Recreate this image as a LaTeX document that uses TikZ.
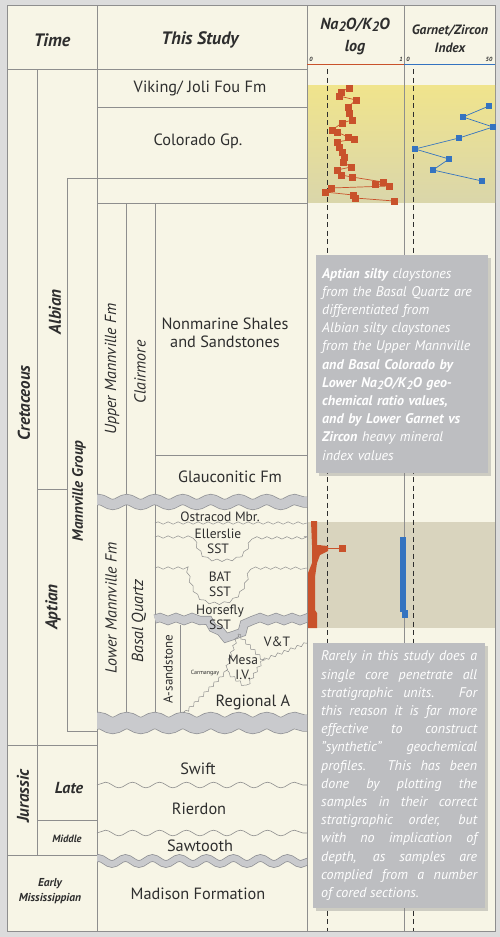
\documentclass[tikz,border=0pt]{standalone}
\usepackage{fontspec}
\setmainfont{PT Sans}
\usetikzlibrary{arrows.meta,plotmarks,decorations.pathmorphing,shadows}

\definecolor{paper}{HTML}{F7F5E6}
\definecolor{frame}{HTML}{DCDCDC}
\definecolor{ink}{HTML}{2E2E2E}
\definecolor{rulegray}{HTML}{8E8E8E}
\definecolor{bandgray}{HTML}{C9CACD}
\definecolor{bandedge}{HTML}{8F9094}
\definecolor{natred}{HTML}{C9522B}
\definecolor{garblue}{HTML}{3473C0}
\definecolor{yelltop}{HTML}{F0E48C}
\definecolor{yellbot}{HTML}{DAD6AA}
\definecolor{aptband}{HTML}{D9D4BE}
\definecolor{notegray}{HTML}{BDBEC1}

\newcommand{\lowsub}[1]{\raisebox{-.3ex}{\scalebox{.85}{#1}}}

\begin{document}
\begin{tikzpicture}[x=1pt,y=-1pt,
  rule/.style={draw=rulegray,line width=0.6pt},
  wave/.style={draw=rulegray,line width=0.6pt,decorate,
    decoration={snake,amplitude=2.8pt,segment length=27pt}},
  ripple/.style={draw=rulegray,line width=0.5pt,decorate,
    decoration={snake,amplitude=1.2pt,segment length=10pt}},
  bumpy/.style={draw=rulegray,line width=0.5pt,decorate,
    decoration={snake,amplitude=1.4pt,segment length=7pt}},
  head/.style={font=\fontsize{18}{20}\selectfont\bfseries\itshape,text=ink,align=center},
  age/.style={font=\fontsize{17}{19}\selectfont\bfseries\itshape,text=ink,rotate=90},
  fm/.style={font=\fontsize{16}{18}\selectfont\itshape,text=ink,rotate=90},
  unit/.style={font=\fontsize{16.3}{18}\selectfont,text=ink,align=center},
  sub/.style={font=\fontsize{13.5}{15}\selectfont,text=ink,align=center},
  tick/.style={font=\fontsize{6}{7}\selectfont\bfseries\itshape,text=ink},
  note/.style={fill=notegray,text=white,inner sep=0pt,anchor=north west,
    font=\fontsize{14}{18.2}\selectfont\itshape,
    drop shadow={shadow xshift=2.5pt,shadow yshift=-2.5pt,opacity=.35}}]

  % frame and panel
  \fill[frame] (0,0) rectangle (500,937);
  \fill[paper,draw=rulegray,line width=0.6pt] (7,5) rectangle (495,931);

  % highlighted intervals in the data columns
  \fill[top color=yelltop,bottom color=yellbot] (307,85) rectangle (495,202);
  \fill[aptband] (307,522) rectangle (495,628);

  % column rules
  \draw[rule] (97,5) -- (97,931);
  \draw[rule] (307,5) -- (307,931);
  \draw[rule] (404,5) -- (404,931);
  \draw[rule] (37,69) -- (37,855);
  \draw[rule] (7,69) -- (307,69);
  \draw[natred,line width=1pt] (307,64) -- (404,64);
  \draw[garblue,line width=1pt] (404,64) -- (495,64);

  % row rules
  \draw[rule] (97,107) -- (307,107);
  \draw[rule] (67,178) -- (307,178);
  \draw[rule] (97,203) -- (307,203);
  \draw[rule] (67,178) -- (67,731) -- (97,731);
  \draw[rule] (126,203) -- (126,715);
  \draw[rule] (155,203) -- (155,715);
  \draw[rule] (155,455) -- (307,455);
  \draw[rule] (37,489) -- (67,489);
  \draw[rule] (180,625) -- (180,715);
  \draw[rule] (7,745) -- (97,745);
  \draw[rule] (37,820) -- (97,820);
  \draw[rule] (7,855) -- (97,855);

  % unconformities
  \begin{scope}
    \clip (97,0) rectangle (307,937);
    \draw[bandedge,line width=11pt,decorate,decoration={snake,amplitude=2.5pt,segment length=28pt}]
      (90,502) -- (315,502);
    \draw[bandgray,line width=9.6pt,decorate,decoration={snake,amplitude=2.5pt,segment length=28pt}]
      (90,502) -- (315,502);
    \draw[bandedge,line width=9pt,decorate,decoration={snake,amplitude=1.5pt,segment length=16pt}]
      (155,619) -- (193,619) .. controls (210,619) and (212,637) .. (227,637)
      .. controls (238,637) and (240,619) .. (250,619) -- (315,619);
    \draw[bandgray,line width=7.6pt,decorate,decoration={snake,amplitude=1.5pt,segment length=16pt}]
      (155,619) -- (193,619) .. controls (210,619) and (212,637) .. (227,637)
      .. controls (238,637) and (240,619) .. (250,619) -- (315,619);
    \draw[bandedge,line width=17pt,decorate,decoration={snake,amplitude=2.5pt,segment length=28pt}]
      (90,723) -- (315,723);
    \draw[bandgray,line width=15.6pt,decorate,decoration={snake,amplitude=2.5pt,segment length=28pt}]
      (90,723) -- (315,723);
    \draw[bandedge,line width=7.5pt,decorate,decoration={snake,amplitude=3pt,segment length=27pt}]
      (90,861) -- (315,861);
    \draw[bandgray,line width=6pt,decorate,decoration={snake,amplitude=3pt,segment length=27pt}]
      (90,861) -- (315,861);
  \end{scope}
  \draw[wave] (97,785) -- (307,785);
  \draw[wave] (97,833) -- (307,833);
  \draw[ripple] (155,523) -- (307,523);
  \draw[ripple] (155,537) -- (190,537) .. controls (196,560) and (205,560) .. (218,560)
    .. controls (232,560) and (242,558) .. (247,537) -- (307,537);
  \draw[ripple] (155,568) -- (188,568) .. controls (194,600) and (205,602) .. (220,602)
    .. controls (236,602) and (246,590) .. (250,568) -- (307,568);
  \draw[bumpy] (238,634) -- (226,670) -- (183,713);
  \draw[bumpy] (238,634) -- (263,660) -- (247,686) -- (226,670);
  \draw[bumpy] (263,660) -- (307,643);

  % cut-off lines
  \draw[ink,line width=0.9pt,dash pattern=on 5pt off 3.5pt] (327,69) -- (327,931);
  \draw[ink,line width=0.9pt,dash pattern=on 5pt off 3.5pt] (413,69) -- (413,931);

  % Na2O/K2O samples
  \draw[natred,line width=0.7pt,mark size=3pt]
    plot[mark=square*] coordinates {(349,88) (341,92) (339,96) (356,100) (348,107)
      (349,113) (352,120) (342,123) (332,130) (337,132) (348,137) (354,139)
      (337,142) (339,147) (342,152) (344,157) (343,162) (351,167) (337,170)
      (341,175) (352,177) (383,182) (375,184) (389,186) (331,188) (325,192)
      (353,195) (355,198) (394,201)};
  \fill[natred] (311,521) -- (317,521) -- (317,545) -- (328,546) -- (328,551)
    -- (320,555) -- (317,563) -- (315,577) -- (315,610) -- (317,613) -- (317,628)
    -- (308,628) -- (308,573) -- (312,563) -- (312,545) -- cycle;
  \draw[natred,line width=0.7pt,mark size=3pt]
    plot[mark=square*] coordinates {(317,548) (342,548)};

  % garnet/zircon samples
  \draw[garblue,line width=0.7pt,mark size=2.6pt]
    plot[mark=square*] coordinates {(489,106) (463,117) (493,127) (459,138)
      (415,149) (449,159) (433,170) (482,181)};
  \fill[garblue] (400,537) rectangle (406,612);
  \fill[garblue] (402,610) rectangle (408,618);

  % headings
  \node[head] (time) at (52,40) {Time};
  \node[head] (study) at (200,40) {This Study};
  \node[head,font=\fontsize{16}{22}\selectfont\bfseries\itshape] (ratio) at (355,36)
    {Na\lowsub{2}O/K\lowsub{2}O\\log};
  \node[head,font=\fontsize{13.5}{18}\selectfont\bfseries\itshape] (index) at (450,39)
    {Garnet/Zircon\\Index};
  \node[tick] (rzero) at (311,59) {0};
  \node[tick] (rone) at (401,59) {1};
  \node[tick] (gzero) at (408,59) {0};
  \node[tick] (gfifty) at (489,59) {50};

  % time scale
  \node[age] (cret) at (24,403) {Cretaceous};
  \node[age] (albian) at (55,312) {Albian};
  \node[age] (aptian) at (53,607) {Aptian};
  \node[age,font=\fontsize{15}{17}\selectfont\bfseries\itshape] (mgroup) at (79,491) {Mannville Group};
  \node[age] (jura) at (23,796) {Jurassic};
  \node[head,font=\fontsize{16}{18}\selectfont\bfseries\itshape] (late) at (69,788) {Late};
  \node[head,font=\fontsize{10.5}{12}\selectfont\bfseries\itshape] (middle) at (67,839) {Middle};
  \node[head,font=\fontsize{11.5}{15}\selectfont\bfseries\itshape] (miss) at (50,891) {Early\\Mississippian};

  % formations
  \node[fm] (upperfm) at (112,369) {Upper Mannville Fm};
  \node[fm] (clair) at (140,372) {Clairmore};
  \node[fm] (lowerfm) at (111,608) {Lower Mannville Fm};
  \node[fm] (basalq) at (139,621) {Basal Quartz};
  \node[sub,rotate=90,font=\fontsize{13}{14}\selectfont] (asand) at (168,669) {A-sandstone};
  \node[unit] (viking) at (200,88) {Viking/ Joli Fou Fm};
  \node[unit] (colorado) at (198,141) {Colorado Gp.};
  \node[unit] (nonmar) at (225,333) {Nonmarine Shales\\and Sandstones};
  \node[unit] (glauc) at (230,477) {Glauconitic Fm};
  \node[sub] (ostra) at (220,517) {Ostracod Mbr.};
  \node[sub] (eller) at (218,541) {Ellerslie\\SST};
  \node[sub] (bat) at (220,584) {BAT\\SST};
  \node[sub] (horse) at (220,617) {Horsefly\\SST};
  \node[sub] (vt) at (277,642) {V\&T};
  \node[sub] (mesa) at (243,667) {Mesa\\I.V.};
  \node[sub,font=\fontsize{6}{7}\selectfont] (carm) at (205,673) {Carmangay};
  \node[unit] (regA) at (253,702) {Regional A};
  \node[unit] (swift) at (198,769) {Swift};
  \node[unit] (rier) at (199,809) {Rierdon};
  \node[unit] (saw) at (200,846) {Sawtooth};
  \node[unit] (madison) at (198,894) {Madison Formation};

  % notes
  \node[note,minimum width=172pt,minimum height=218pt,text width=160pt,align=left]
    (aptnote) at (316,255)
    {\textbf{Aptian silty} claystones\\
     from the Basal Quartz are\\
     differentiated from\\
     Albian silty claystones\\
     from the Upper Mannville\\
     \textbf{and Basal Colorado by}\\
     \textbf{Lower Na\lowsub{2}O/K\lowsub{2}O geo-}\\
     \textbf{chemical ratio values,}\\
     \textbf{and by Lower Garnet vs}\\
     \textbf{Zircon} heavy mineral\\
     index values};
  \node[note,minimum width=172pt,minimum height=265pt,text width=156pt,align=justify]
    (corenote) at (313,643)
    {Rarely in this study does a\linebreak
     single core penetrate all\linebreak
     stratigraphic units. For\linebreak
     this reason it is far more\linebreak
     effective to construct\linebreak
     "synthetic" geochemical\linebreak
     profiles. This has been\linebreak
     done by plotting the\linebreak
     samples in their correct\linebreak
     stratigraphic order, but\linebreak
     with no implication of\linebreak
     depth, as samples are\linebreak
     complied from a number\linebreak
     of cored sections.};
\end{tikzpicture}
\end{document}
